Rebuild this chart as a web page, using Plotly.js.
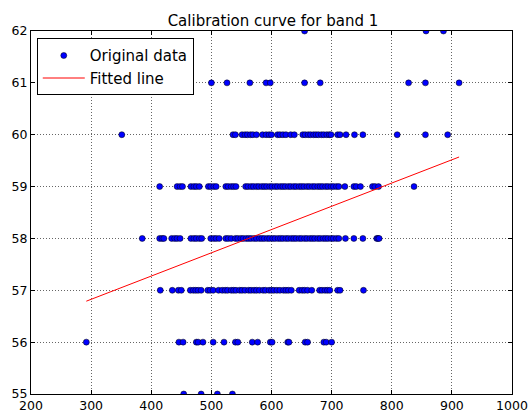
<!DOCTYPE html>
<html>
<head>
<meta charset="utf-8">
<script src="https://cdn.plot.ly/plotly-3.0.1.min.js"></script>
<style>html,body{margin:0;padding:0;background:#fff;}#chart{width:530px;height:410px;}</style>
</head>
<body>
<div id="chart"></div>
<script>
// Original data: x values (band DN) observed at each integer calibration level
var level55 = [454, 483, 510, 535];
var level56 = [292, 446, 453, 475, 478, 486, 503, 521, 540, 544, 568, 577, 598, 601, 627, 629, 656, 660, 687, 691, 700];
var level57 = [415, 435, 445, 450, 465, 470, 474, 478, 483, 494, 498, 503, 512, 518, 523, 527, 533, 537, 541, 547, 551, 556, 562, 566, 571, 575, 580, 586, 590, 596, 600, 604, 609, 614, 620, 624, 628, 633, 646, 651, 655, 660, 667, 680, 684, 689, 693, 697, 710, 714, 753];
var level58 = [385, 414, 418, 421, 434, 439, 443, 448, 466, 471, 475, 480, 484, 499, 504, 508, 513, 524, 528, 533, 540, 544, 549, 553, 558, 562, 566, 571, 575, 580, 584, 588, 593, 597, 602, 606, 611, 615, 619, 624, 628, 633, 637, 641, 646, 650, 655, 659, 664, 668, 672, 677, 681, 686, 690, 694, 699, 703, 708, 712, 723, 737, 752, 775, 777, 779];
var level59 = [414, 443, 448, 452, 466, 471, 475, 480, 495, 499, 504, 508, 524, 528, 533, 537, 541, 557, 561, 566, 570, 575, 579, 584, 588, 592, 597, 601, 606, 610, 615, 619, 623, 628, 632, 637, 641, 646, 650, 654, 659, 663, 668, 672, 677, 681, 685, 690, 694, 699, 703, 708, 712, 722, 737, 741, 748, 768, 772, 778, 837];
var level60 = [351, 536, 540, 551, 556, 560, 565, 569, 575, 585, 591, 596, 600, 610, 614, 619, 624, 632, 638, 652, 656, 661, 665, 670, 674, 678, 683, 687, 692, 696, 699, 710, 714, 724, 738, 752, 809, 856, 893];
var level61 = [500, 526, 564, 591, 598, 655, 681, 828, 856, 912];
var level62 = [655, 857, 886];

var levels = [55, 56, 57, 58, 59, 60, 61, 62];
var rows = [level55, level56, level57, level58, level59, level60, level61, level62];

// Fitted line end points
var fitX = [292, 912];
var fitY = [56.79, 59.57];

var xTicks = [200, 300, 400, 500, 600, 700, 800, 900, 1000];
var yTicks = [55, 56, 57, 58, 59, 60, 61, 62];

var dataX = [], dataY = [];
rows.forEach(function (r, i) {
  r.forEach(function (v) { dataX.push(v); dataY.push(levels[i]); });
});

var FONT = 'DejaVu Sans, sans-serif';

var traces = [
  {
    x: dataX, y: dataY, type: 'scatter', mode: 'markers', name: 'Original data',
    marker: {color: '#0000ff', size: 6, line: {color: '#000000', width: 0.5}}
  },
  {
    x: fitX, y: fitY, type: 'scatter', mode: 'lines', name: 'Fitted line',
    line: {color: '#ff0000', width: 1}
  }
];

var axisCommon = {
  showline: true, linecolor: '#000', linewidth: 1, mirror: 'ticks',
  ticks: 'inside', ticklen: 4, tickcolor: '#000', tickwidth: 1,
  showgrid: true, gridcolor: 'rgba(0,0,0,0.6)', gridwidth: 1, griddash: '1px,2px',
  zeroline: false, tickfont: {family: FONT, size: 12.5, color: '#000'}
};

var layout = {
  width: 530, height: 410,
  margin: {l: 31, r: 18, t: 31, b: 16, pad: 0},
  paper_bgcolor: '#fff', plot_bgcolor: '#fff',
  title: {text: 'Calibration curve for band 1', font: {family: FONT, size: 15, color: '#000'},
          x: 0.515, xanchor: 'center', y: 0.95, yanchor: 'middle', yref: 'container'},
  xaxis: Object.assign({}, axisCommon, {range: [200, 1000], tickvals: xTicks, ticktext: xTicks.map(String)}),
  yaxis: Object.assign({}, axisCommon, {range: [55, 62], tickvals: yTicks, ticktext: yTicks.map(String)}),
  showlegend: true,
  legend: {x: 0.012, y: 0.98, xanchor: 'left', yanchor: 'top', bgcolor: '#fff',
           bordercolor: '#000', borderwidth: 1, font: {family: FONT, size: 15, color: '#000'},
           tracegroupgap: 0, itemwidth: 42}
};

Plotly.newPlot('chart', traces, layout, {displayModeBar: false, staticPlot: true});
</script>
</body>
</html>
